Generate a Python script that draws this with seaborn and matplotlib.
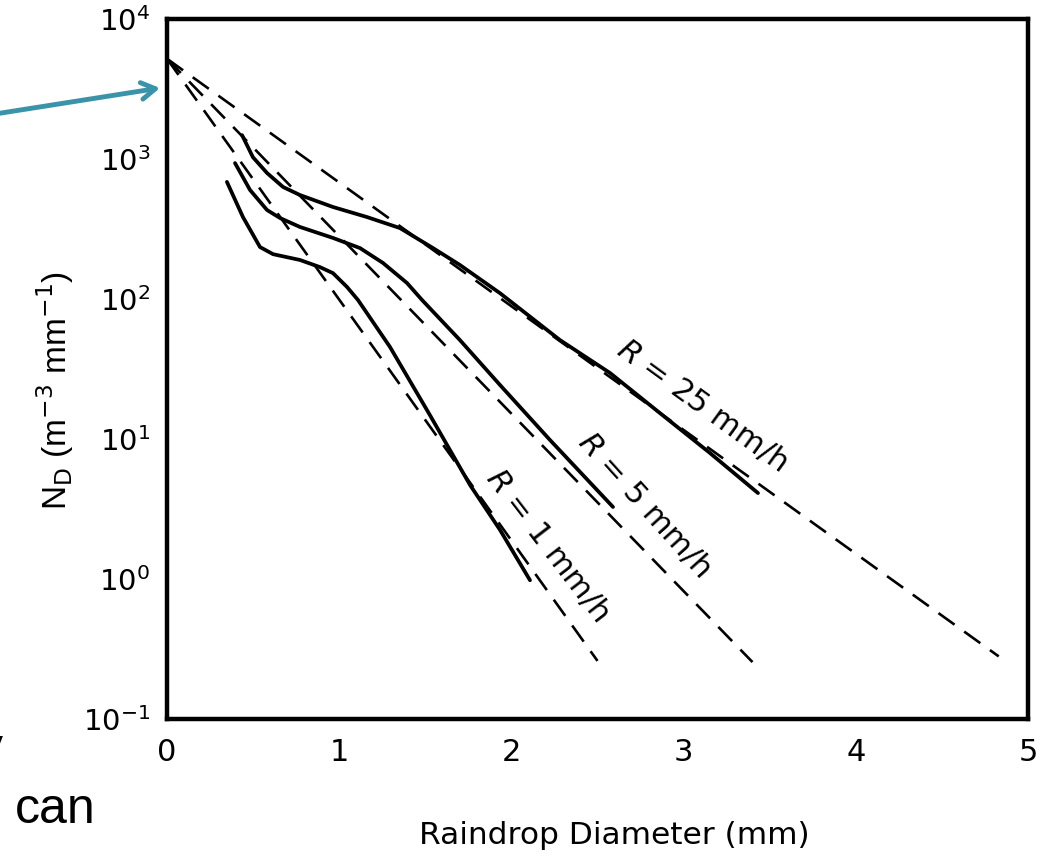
import numpy as np
import pandas as pd
import matplotlib
matplotlib.use('Agg')
import matplotlib.pyplot as plt
from matplotlib.ticker import NullLocator
import seaborn as sns

d_r25 = [0.436, 0.499, 0.581, 0.674, 0.772, 0.964, 1.161, 1.353, 1.545, 1.701,
         1.934, 2.282, 2.573, 2.863, 3.153, 3.432]
n_r25 = [1480, 1030, 794, 631, 553, 454, 385, 321, 231, 175,
         110, 50.9, 29.6, 15.3, 7.94, 4.11]
d_r5 = [0.395, 0.482, 0.581, 0.656, 0.772, 0.964, 1.121, 1.254, 1.394, 1.481,
        1.701, 1.934, 2.224, 2.590]
n_r5 = [935, 601, 432, 379, 327, 273, 231, 181, 130, 98.4,
        50.9, 24.3, 9.84, 3.27]
d_r1 = [0.348, 0.441, 0.540, 0.616, 0.772, 0.888, 0.964, 1.045, 1.109, 1.295,
        1.527, 1.760, 1.934, 2.108]
n_r1 = [686, 385, 235, 209, 190, 169, 153, 122, 98.4, 45.4,
        14.8, 4.69, 2.24, 0.98]

# Marshall-Palmer exponential fits (dashed): common intercept and end points
mp_d0 = 0.0
mp_n0 = 5200
mp_d_end = [4.83, 3.40, 2.50]
mp_n_end = [0.28, 0.255, 0.26]
rates = ['25', '5', '1']

x_ticks = [0, 1, 2, 3, 4, 5]
x_ticklabels = ['0', '1', '2', '3', '4', '5']
y_ticks = [1e-1, 1e0, 1e1, 1e2, 1e3, 1e4]
y_ticklabels = [r'$10^{-1}$', r'$10^{0}$', r'$10^{1}$', r'$10^{2}$', r'$10^{3}$', r'$10^{4}$']

sns.set_style('white')
plt.rcParams['font.family'] = ['DejaVu Sans']
plt.rcParams['mathtext.fontset'] = 'dejavusans'
for k in ['text.color', 'axes.labelcolor', 'xtick.color', 'ytick.color']:
    plt.rcParams[k] = 'black'

W, H = 1057, 865
fig = plt.figure(figsize=(W / 100, H / 100), dpi=100)
ax = fig.add_axes([167 / W, 1 - 719 / H, (1028 - 167) / W, 700 / H])

solid = pd.DataFrame({
    'D': d_r25 + d_r5 + d_r1,
    'N': n_r25 + n_r5 + n_r1,
    'R': ['25'] * len(d_r25) + ['5'] * len(d_r5) + ['1'] * len(d_r1),
})
dashed = pd.DataFrame({
    'D': [v for e in mp_d_end for v in (mp_d0, e)],
    'N': [v for e in mp_n_end for v in (mp_n0, e)],
    'R': [r for r in rates for _ in (0, 1)],
})

for r in rates:
    sub = dashed[dashed.R == r]
    sns.lineplot(data=sub, x='D', y='N', ax=ax, color='black', lw=1.9,
                 estimator=None, sort=False, legend=False)
    ax.lines[-1].set_dashes((7.5, 4.5))
for r in rates:
    sub = solid[solid.R == r]
    sns.lineplot(data=sub, x='D', y='N', ax=ax, color='black', lw=2.7,
                 estimator=None, sort=False, legend=False)
    ax.lines[-1].set_solid_joinstyle('round')
    ax.lines[-1].set_solid_capstyle('round')

ax.set_yscale('log')
ax.set_xlim(0, 5)
ax.set_ylim(1e-1, 1e4)
ax.set_xticks(x_ticks)
ax.set_xticklabels(x_ticklabels, fontsize=22)
ax.set_yticks(y_ticks)
ax.set_yticklabels(y_ticklabels, fontsize=21)
ax.yaxis.set_minor_locator(NullLocator())
ax.tick_params(axis='both', length=0)
ax.tick_params(axis='y', pad=12)
ax.tick_params(axis='x', pad=14)
for s in ax.spines.values():
    s.set_visible(True)
    s.set_color('black')
    s.set_linewidth(3.2)

ax.set_xlabel('Raindrop Diameter (mm)', fontsize=22.5, va='center')
ax.xaxis.set_label_coords(0.52, -0.166)
ax.set_ylabel(r'N$_{\mathrm{D}}$ (m$^{\mathrm{-3}}$ mm$^{\mathrm{-1}}$)',
              fontsize=24, va='center', family='Liberation Sans')
ax.yaxis.set_label_coords(-0.130, 0.47)

ax.text(3.107, 17.5, r'$R$ = 25 mm/h', rotation=-36, ha='center', va='center',
        rotation_mode='anchor', fontsize=22)
ax.text(2.776, 3.38, r'$R$ = 5 mm/h', rotation=-48, ha='center', va='center',
        rotation_mode='anchor', fontsize=22)
ax.text(2.213, 1.75, r'$R$ = 1 mm/h', rotation=-52.5, ha='center', va='center',
        rotation_mode='anchor', fontsize=22)

# slide artifacts around the figure
ax.annotate('', xy=(160, H - 88), xycoords='figure pixels',
            xytext=(-5, H - 114), textcoords='figure pixels',
            arrowprops=dict(arrowstyle='->,head_length=1.0,head_width=0.6',
                            color='#3a93a9', lw=3.5, shrinkA=0, shrinkB=0),
            annotation_clip=False)
fig.text(15 / W, 1 - 823 / H, 'can', fontsize=36, family='Liberation Sans',
         va='baseline', ha='left')
fig.text(-22 / W, 1 - 763 / H, 'y', fontsize=36, family='Liberation Sans',
         va='baseline', ha='left')

fig.savefig('out.png', dpi=100)
